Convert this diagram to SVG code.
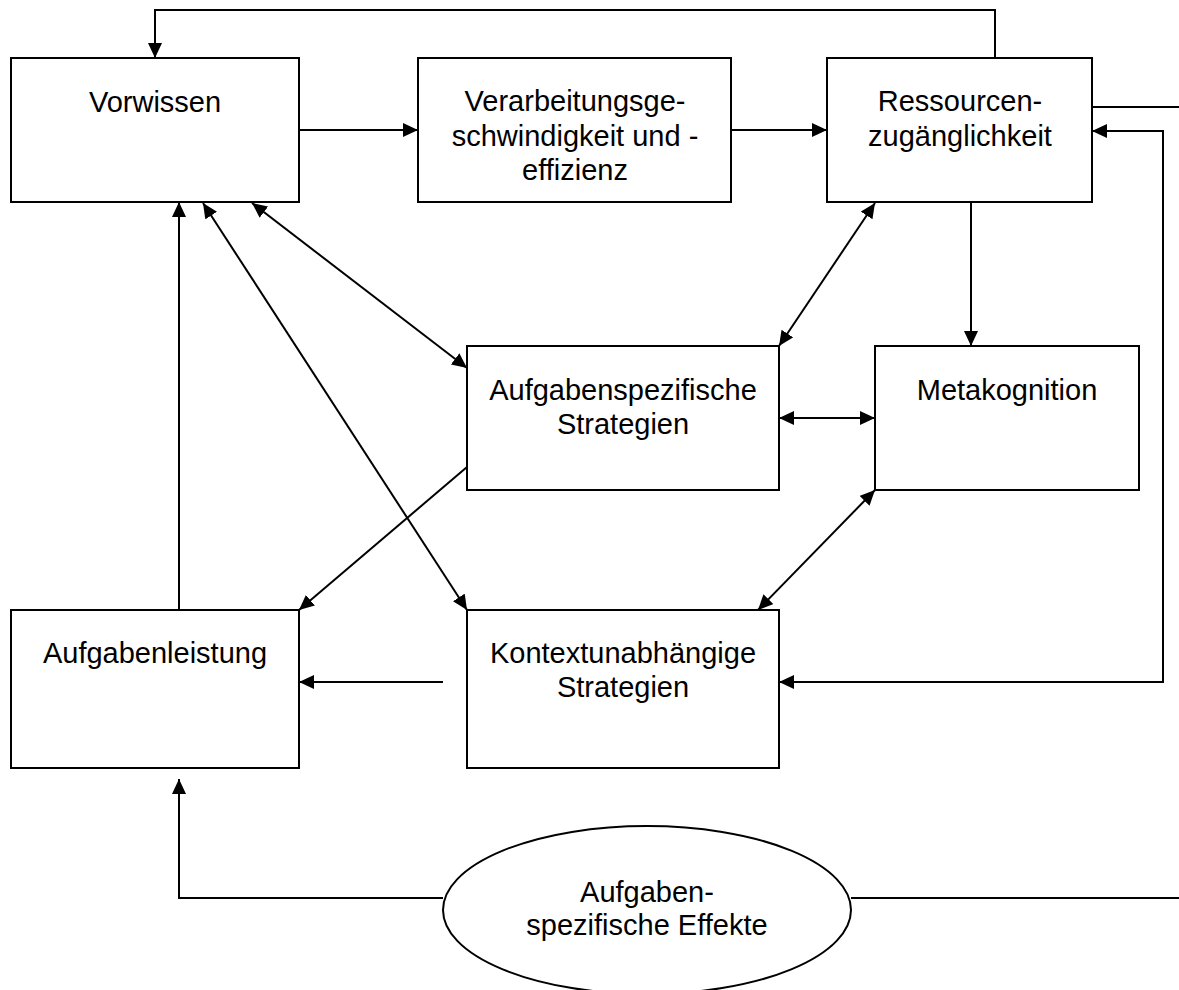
<svg xmlns="http://www.w3.org/2000/svg" width="1179" height="990" viewBox="0 0 1179 990">
<defs>
<style>
.box{fill:#fff;stroke:#000;stroke-width:2}
.t{font-family:"Liberation Sans",Arial,sans-serif;font-size:29px;fill:#000;text-anchor:middle}
.c{fill:none;stroke:#000;stroke-width:2}
.e{marker-end:url(#ah)}
.b{marker-start:url(#ah);marker-end:url(#ah)}
</style>
<marker id="ah" markerUnits="userSpaceOnUse" markerWidth="16" markerHeight="15" refX="15" refY="7" orient="auto-start-reverse">
<path d="M0,0 L15,7 L0,14 z" fill="#000"/>
</marker>
</defs>
<rect width="1179" height="990" fill="#fff"/>
<g id="connectors">
<polyline class="c e" points="995,58 995,10 155,10 155,58"/>
<line class="c e" x1="299" y1="130" x2="418" y2="130"/>
<line class="c e" x1="731" y1="130" x2="827" y2="130"/>
<line class="c" x1="1092" y1="107" x2="1179" y2="107"/>
<polyline class="c b" points="1092,131 1163,131 1163,682 779,682"/>
<line class="c e" x1="971" y1="202" x2="971" y2="346"/>
<line class="c b" x1="203" y1="203" x2="467" y2="610"/>
<line class="c b" x1="252" y1="203" x2="467" y2="368"/>
<line class="c b" x1="875" y1="203" x2="779" y2="346"/>
<line class="c b" x1="779" y1="418" x2="875" y2="418"/>
<line class="c b" x1="875" y1="490" x2="758" y2="610"/>
<line class="c e" x1="467" y1="467" x2="299" y2="610"/>
<line class="c e" x1="443" y1="682" x2="299" y2="682"/>
<line class="c e" x1="179" y1="610" x2="179" y2="202"/>
<polyline class="c e" points="443,898 179,898 179,779"/>
<line class="c" x1="851" y1="898" x2="1179" y2="898"/>
</g>
<g id="vorwissen">
<rect class="box" x="11" y="58" width="288" height="144"/>
<text class="t" x="155" y="112">Vorwissen</text>
</g>
<g id="verarbeitung">
<rect class="box" x="418" y="58" width="313" height="144"/>
<text class="t" x="575" y="111">Verarbeitungsge-</text>
<text class="t" x="575" y="146">schwindigkeit und -</text>
<text class="t" x="575" y="180">effizienz</text>
</g>
<g id="ressourcen">
<rect class="box" x="827" y="58" width="265" height="144"/>
<text class="t" x="960" y="111">Ressourcen-</text>
<text class="t" x="960" y="146">zugänglichkeit</text>
</g>
<g id="aufgabenspezifische-strategien">
<rect class="box" x="467" y="346" width="312" height="144"/>
<text class="t" x="623" y="400">Aufgabenspezifische</text>
<text class="t" x="623" y="434">Strategien</text>
</g>
<g id="metakognition">
<rect class="box" x="875" y="346" width="264" height="144"/>
<text class="t" x="1007" y="400">Metakognition</text>
</g>
<g id="aufgabenleistung">
<rect class="box" x="11" y="610" width="288" height="158"/>
<text class="t" x="155" y="663">Aufgabenleistung</text>
</g>
<g id="kontextunabhaengige-strategien">
<rect class="box" x="467" y="610" width="312" height="158"/>
<text class="t" x="623" y="663">Kontextunabhängige</text>
<text class="t" x="623" y="697">Strategien</text>
</g>
<g id="aufgabenspezifische-effekte">
<ellipse class="box" cx="647" cy="910" rx="204" ry="84"/>
<text class="t" x="647" y="902">Aufgaben-</text>
<text class="t" x="647" y="935">spezifische Effekte</text>
</g>
</svg>
